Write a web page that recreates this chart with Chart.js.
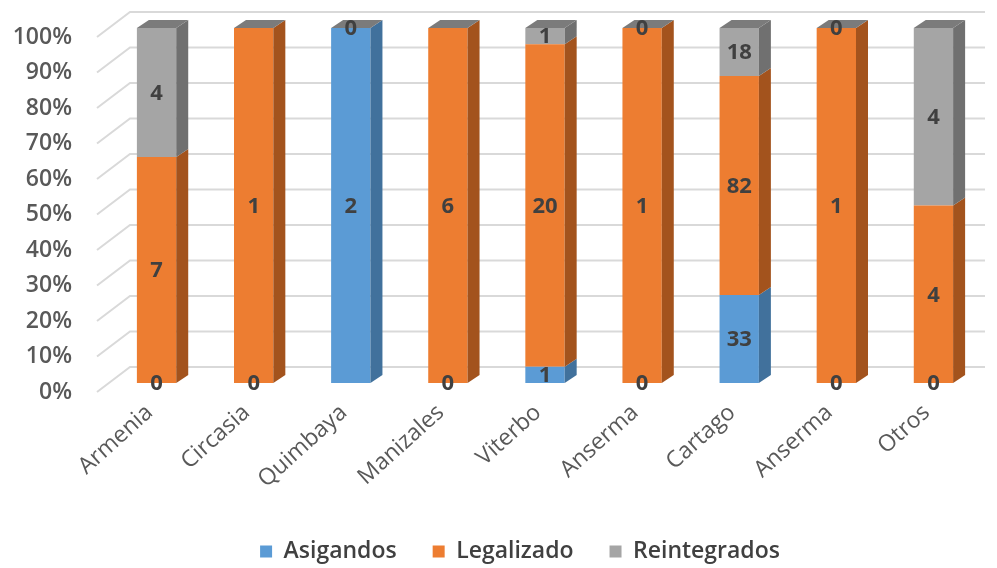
<!DOCTYPE html>
<html>
<head>
<meta charset="utf-8">
<script src="https://cdn.jsdelivr.net/npm/chart.js@4.4.0/dist/chart.umd.min.js"></script>
<style>
  html, body { margin: 0; padding: 0; background: #fff; }
  #wrap { width: 997px; height: 568px; }
</style>
</head>
<body>
<div id="wrap"><canvas id="myChart" width="997" height="568"></canvas></div>
<script>
const categories = ['Armenia', 'Circasia', 'Quimbaya', 'Manizales', 'Viterbo', 'Anserma', 'Cartago', 'Anserma', 'Otros'];
const asigandos = [0, 0, 2, 0, 1, 0, 33, 0, 0];
const legalizado = [7, 1, 0, 6, 20, 1, 82, 1, 4];
const reintegrados = [4, null, null, null, 1, 0, 18, 0, 4];
const yTicks = [0, 10, 20, 30, 40, 50, 60, 70, 80, 90, 100];

const series = [
    { label: 'Asigandos', counts: asigandos, front: '#5b9bd5', side: '#41719c' },
    { label: 'Legalizado', counts: legalizado, front: '#ed7d31', side: '#a3531d' },
    { label: 'Reintegrados', counts: reintegrados, front: '#a5a5a5', side: '#707070' }
];
const topColor = '#7b7b7b';
const depthX = 12;
const depthY = 8;

// totals per city, used to turn counts into 100% stacked shares
const totals = categories.map((c, i) => {
    let sum = 0;
    series.forEach((s) => { if (s.counts[i] != null) sum += s.counts[i]; });
    return sum;
});

const toPercent = (arr) => arr.map((v, i) => v == null ? null : v / totals[i] * 100);

// back wall + floor grid, offset to look like depth
const wallGrid = {
    id: 'wallGrid',
    beforeDatasetsDraw(chart) {
        const ctx = chart.ctx;
        const y = chart.scales.y;
        const left = chart.chartArea.left;
        ctx.save();
        ctx.strokeStyle = '#d9d9d9';
        ctx.lineWidth = 2;
        yTicks.forEach((v) => {
            const py = y.getPixelForValue(v);
            ctx.beginPath();
            ctx.moveTo(left - 11, py + 9);
            ctx.lineTo(left + 22, py - 16);
            ctx.lineTo(985, py - 16);
            ctx.stroke();
        });
        ctx.restore();
    }
};

// side and top faces of the bars, then the value labels
const bars3d = {
    id: 'bars3d',
    afterDatasetsDraw(chart) {
        const ctx = chart.ctx;
        const yTop = chart.scales.y.getPixelForValue(100);
        ctx.save();
        series.forEach((s, d) => {
            const meta = chart.getDatasetMeta(d);
            meta.data.forEach((el, i) => {
                if (s.counts[i] == null) return;
                const right = el.x + el.width / 2;
                const t = Math.min(el.y, el.base);
                const b = Math.max(el.y, el.base);
                if (b - t < 0.5) return;
                ctx.fillStyle = s.side;
                ctx.beginPath();
                ctx.moveTo(right, t);
                ctx.lineTo(right + depthX, t - depthY);
                ctx.lineTo(right + depthX, b - depthY);
                ctx.lineTo(right, b);
                ctx.closePath();
                ctx.fill();
            });
        });
        chart.getDatasetMeta(0).data.forEach((el) => {
            const l = el.x - el.width / 2;
            const r = el.x + el.width / 2;
            ctx.fillStyle = topColor;
            ctx.beginPath();
            ctx.moveTo(l, yTop);
            ctx.lineTo(l + depthX, yTop - depthY);
            ctx.lineTo(r + depthX, yTop - depthY);
            ctx.lineTo(r, yTop);
            ctx.closePath();
            ctx.fill();
        });

        ctx.fillStyle = '#404040';
        ctx.font = 'bold 22px "Open Sans"';
        ctx.textAlign = 'center';
        ctx.textBaseline = 'middle';
        series.forEach((s, d) => {
            const meta = chart.getDatasetMeta(d);
            meta.data.forEach((el, i) => {
                if (s.counts[i] == null) return;
                ctx.fillText(String(s.counts[i]), el.x, (el.y + el.base) / 2 + 1);
            });
        });
        ctx.restore();
    }
};

// nudge the legend row to the right
const legendShift = {
    id: 'legendShift',
    afterLayout(chart) {
        if (chart.legend) chart.legend.left += 50;
    }
};

const ctx = document.getElementById('myChart').getContext('2d');
const chart = new Chart(ctx, {
    type: 'bar',
    data: {
        labels: categories,
        datasets: series.map((s) => ({
            label: s.label,
            data: toPercent(s.counts),
            backgroundColor: s.front,
            borderWidth: 0,
            categoryPercentage: 1,
            barPercentage: 0.405
        }))
    },
    options: {
        responsive: false,
        animation: false,
        events: [],
        layout: { padding: { left: 8, right: 15, top: 28, bottom: -5 } },
        plugins: {
            tooltip: { enabled: false },
            legend: {
                position: 'bottom',
                labels: {
                    boxWidth: 12,
                    boxHeight: 12,
                    padding: 36,
                    color: '#404040',
                    font: { family: 'Open Sans', size: 23, weight: 600 }
                }
            }
        },
        scales: {
            x: {
                stacked: true,
                grid: { display: false, drawTicks: false },
                border: { display: false },
                ticks: {
                    color: '#595959',
                    font: { family: 'Open Sans', size: 23 },
                    minRotation: 42,
                    maxRotation: 42,
                    padding: 16,
                    labelOffset: -7,
                    autoSkip: false
                },
                afterFit(scale) { scale.height = 121; }
            },
            y: {
                stacked: true,
                min: 0,
                max: 100,
                grid: { display: false, drawTicks: false },
                border: { display: false },
                ticks: {
                    stepSize: 10,
                    color: '#595959',
                    font: { family: 'Open Sans', size: 23, weight: 600 },
                    padding: 36,
                    labelOffset: 9,
                    callback: (v) => v + '%'
                },
                afterFit(scale) {
                    scale.width = 100;
                    scale.paddingTop = 0;
                    scale.paddingBottom = 0;
                }
            }
        }
    },
    plugins: [wallGrid, bars3d, legendShift]
});
</script>
</body>
</html>
